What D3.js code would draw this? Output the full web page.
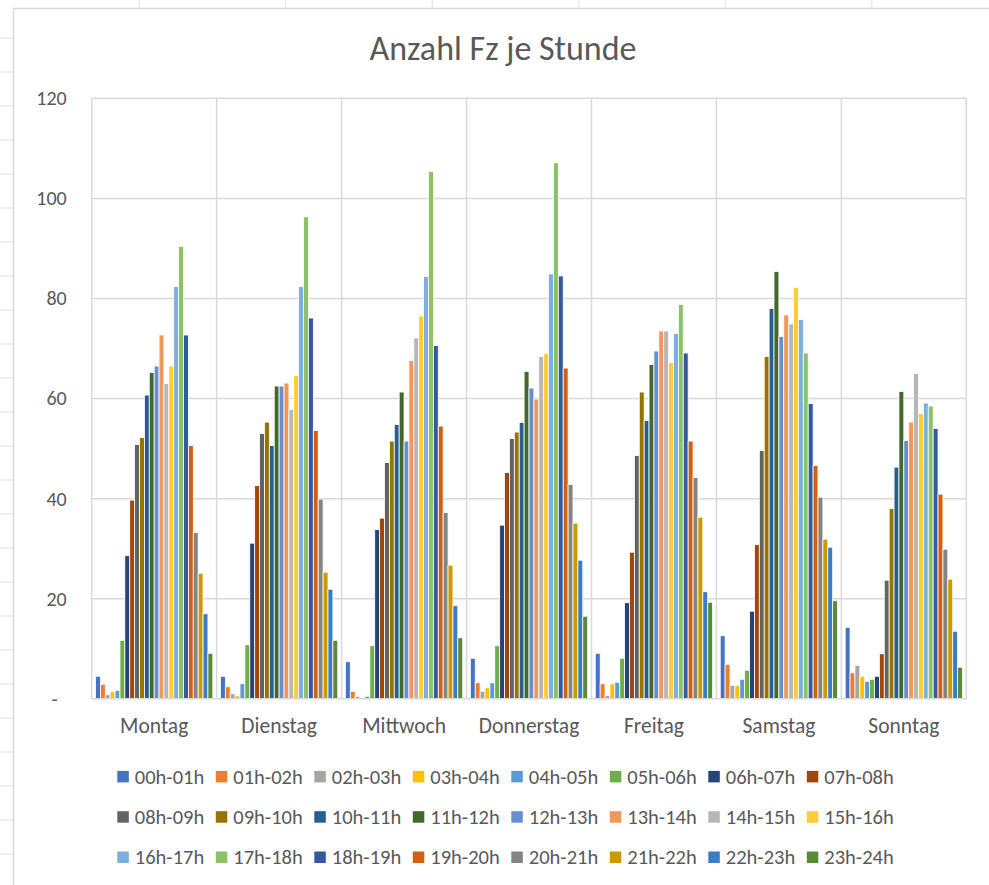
<!DOCTYPE html>
<html>
<head>
<meta charset="utf-8">
<script src="https://cdn.jsdelivr.net/npm/d3@7/dist/d3.min.js"></script>
<style>
  html, body { margin: 0; padding: 0; background: #ffffff; }
  svg { display: block; }
  text { font-family: Carlito, Lato, "Open Sans", sans-serif; fill: #595959; }
</style>
</head>
<body>
<svg id="chart" width="989" height="885"></svg>
<script>
const title = "Anzahl Fz je Stunde";
const days = ["Montag", "Dienstag", "Mittwoch", "Donnerstag", "Freitag", "Samstag", "Sonntag"];
const hours = ["00h-01h","01h-02h","02h-03h","03h-04h","04h-05h","05h-06h","06h-07h","07h-08h",
               "08h-09h","09h-10h","10h-11h","11h-12h","12h-13h","13h-14h","14h-15h","15h-16h",
               "16h-17h","17h-18h","18h-19h","19h-20h","20h-21h","21h-22h","22h-23h","23h-24h"];
const colors = ["#4472C4","#ED7D31","#A5A5A5","#FFC000","#5B9BD5","#70AD47","#264478","#9E480E",
                "#636363","#997300","#255E91","#43682B","#698ED0","#F1975A","#B7B7B7","#FFCD33",
                "#7CAFDD","#8CC168","#335AA1","#D26012","#848484","#CC9A00","#3A7DC6","#5A8A39"];
const yTicks = [0, 20, 40, 60, 80, 100, 120];
const yTickLabels = ["-", "20", "40", "60", "80", "100", "120"];

const montag     = [4.5,2.9,0.8,1.4,1.7,11.7,28.6,39.7,50.8,52.2,60.7,65.2,66.5,72.7,63.0,66.5,82.4,90.4,72.7,50.6,33.2,25.1,17.0,9.1];
const dienstag   = [4.5,2.4,1.0,0.6,3.0,10.8,31.1,42.6,53.0,55.3,50.6,62.5,62.5,63.1,57.8,64.6,82.4,96.3,76.1,53.6,39.9,25.3,21.9,11.7];
const mittwoch   = [7.4,1.5,0.5,0.3,0.5,10.6,33.8,36.1,47.2,51.5,54.8,61.3,51.5,67.6,72.1,76.5,84.4,105.4,70.6,54.5,37.2,26.7,18.6,12.2];
const donnerstag = [8.1,3.2,1.5,2.2,3.2,10.6,34.7,45.2,52.0,53.3,55.2,65.4,62.1,59.9,68.4,69.0,84.9,107.1,84.5,66.1,42.8,35.1,27.7,16.5];
const freitag    = [9.1,3.0,0.7,3.0,3.3,8.1,19.2,29.3,48.6,61.3,55.6,66.8,69.5,73.5,73.5,67.2,73.0,78.8,69.1,51.5,44.2,36.3,21.4,19.3];
const samstag    = [12.6,6.9,2.7,2.7,3.9,5.7,17.5,30.8,49.6,68.4,78.0,85.4,72.4,76.7,74.9,82.2,75.8,69.1,59.0,46.6,40.3,31.9,30.3,19.6];
const sonntag    = [14.3,5.2,6.7,4.5,3.5,3.9,4.5,9.0,23.7,38.0,46.3,61.4,51.6,55.3,65.0,57.0,59.1,58.5,54.0,40.9,29.9,23.9,13.5,6.3];

const dayValues = [montag, dienstag, mittwoch, donnerstag, freitag, samstag, sonntag];
const table = [];
days.forEach((d, di) => hours.forEach((h, hi) => table.push({day: d, hour: h, hi, value: dayValues[di][hi]})));

const W = 989, H = 885;
const svg = d3.select("#chart");
const grid = "#D9D9D9";

// spreadsheet background (cells outside the chart object)
const sheetCols = d3.range(6).map(i => 139.3 + i * 146.5);
const sheetRows = d3.range(27).map(i => 38 + i * 34);
svg.append("g").selectAll("line").data(sheetCols).join("line")
  .attr("x1", d => d).attr("x2", d => d).attr("y1", 0).attr("y2", 8)
  .attr("stroke", "#E1E1E1").attr("stroke-width", 1);
svg.append("g").selectAll("line").data(sheetRows).join("line")
  .attr("x1", 0).attr("x2", 13).attr("y1", d => d).attr("y2", d => d)
  .attr("stroke", "#E1E1E1").attr("stroke-width", 1);

// chart object border
svg.append("rect").attr("x", 13.5).attr("y", 8.5).attr("width", W + 20).attr("height", H + 20)
  .attr("fill", "#ffffff").attr("stroke", grid).attr("stroke-width", 1.5);

// title
svg.append("text").attr("x", 503).attr("y", 60).attr("text-anchor", "middle")
  .style("font-size", "34px").style("font-weight", 300).text(title);

const plot = {left: 91.7, right: 966.3, top: 98.3, bottom: 698.8};

const x0 = d3.scaleBand().domain(days).range([plot.left, plot.right]).paddingInner(0.061).paddingOuter(0.0305);
const x1 = d3.scaleBand().domain(hours).range([0, x0.bandwidth()]).padding(0);
const y = d3.scaleLinear().domain([0, 120]).range([plot.bottom, plot.top]);

// horizontal gridlines
svg.append("g").selectAll("line").data(yTicks.filter(t => t > 0)).join("line")
  .attr("x1", plot.left).attr("x2", plot.right)
  .attr("y1", d => y(d)).attr("y2", d => y(d))
  .attr("stroke", grid).attr("stroke-width", 1.5);

// vertical gridlines at category boundaries
const bounds = days.map(d => x0(d) - x0.step() * x0.paddingInner() / 2).concat([plot.right]);
svg.append("g").selectAll("line").data(bounds).join("line")
  .attr("x1", d => d).attr("x2", d => d)
  .attr("y1", plot.top).attr("y2", plot.bottom)
  .attr("stroke", grid).attr("stroke-width", 1.5);

// bars
const color = d3.scaleOrdinal().domain(hours).range(colors);
svg.append("g").selectAll("rect").data(table).join("rect")
  .attr("x", d => x0(d.day) + x1(d.hour))
  .attr("y", d => y(d.value))
  .attr("width", x1.bandwidth())
  .attr("height", d => y(0) - y(d.value))
  .attr("fill", d => color(d.hour))
  .attr("stroke", "#ffffff").attr("stroke-width", 0.8);

// x axis line
svg.append("line").attr("x1", plot.left).attr("x2", plot.right)
  .attr("y1", plot.bottom).attr("y2", plot.bottom)
  .attr("stroke", grid).attr("stroke-width", 1.5);

// y axis
const yAxis = d3.axisLeft(y).tickValues(yTicks).tickSize(0).tickPadding(25)
  .tickFormat((d, i) => yTickLabels[i]);
const yg = svg.append("g").attr("transform", `translate(${plot.left},0)`).call(yAxis);
yg.select(".domain").remove();
yg.selectAll("text").style("font-size", "20px").attr("fill", "#595959")
  .attr("dx", (d) => d === 0 ? -9 : 0);

// x axis
const xAxis = d3.axisBottom(x0).tickSize(0).tickPadding(19);
const xg = svg.append("g").attr("transform", `translate(0,${plot.bottom})`).call(xAxis);
xg.select(".domain").remove();
xg.selectAll("text").style("font-size", "21.5px").attr("fill", "#595959");

// legend
const legend = svg.append("g");
const items = legend.selectAll("g").data(hours).join("g")
  .attr("transform", (d, i) => `translate(${117.3 + (i % 8) * 98.5},${776.7 + Math.floor(i / 8) * 40.3})`);
items.append("rect").attr("x", 0).attr("y", -5.8).attr("width", 11.5).attr("height", 11.5)
  .attr("fill", d => color(d));
items.append("text").attr("x", 17.5).attr("y", 0).attr("dy", "0.35em")
  .style("font-size", "20.5px").text(d => d);
</script>
</body>
</html>
